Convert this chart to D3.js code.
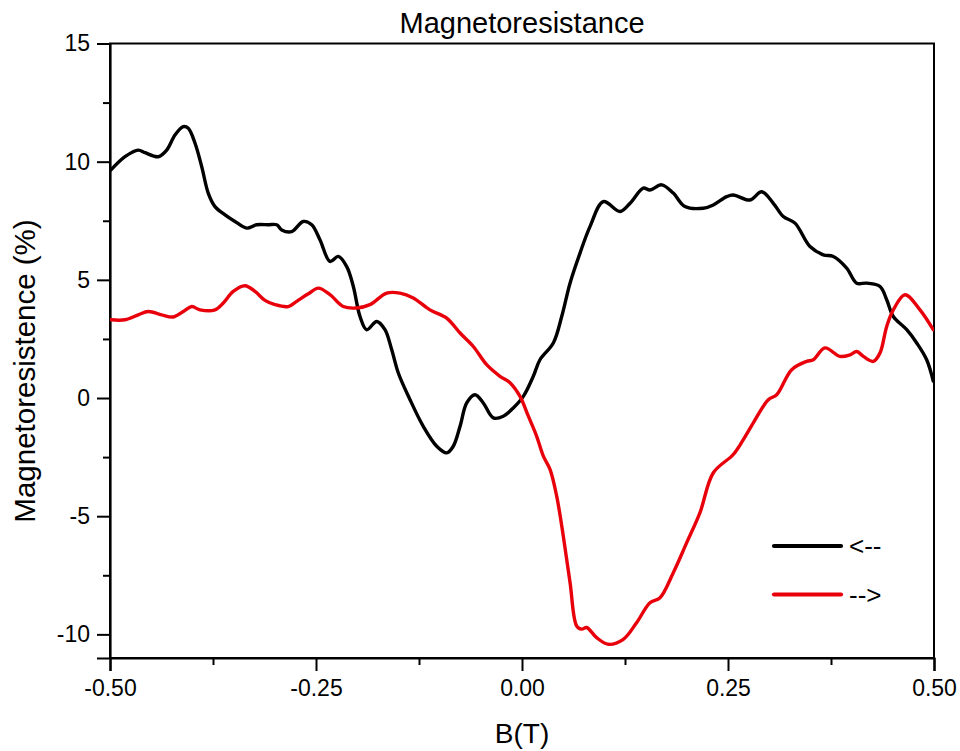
<!DOCTYPE html>
<html>
<head>
<meta charset="utf-8">
<script src="https://cdn.jsdelivr.net/npm/d3@7"></script>
<style>
  html, body { margin: 0; padding: 0; background: #fff; }
  svg { display: block; font-family: "Liberation Sans", Arial, sans-serif; }
</style>
</head>
<body>
<svg id="chart" width="960" height="751"></svg>
<script>
// Field sweep from +0.5 T down to -0.5 T (black, "<--")
const bDown = [-0.4988, -0.4818, -0.4657, -0.4575, -0.4414, -0.4312, -0.4211, -0.4110, -0.4050, -0.3968,
  -0.3887, -0.3807, -0.3726, -0.3604, -0.3483, -0.3341, -0.3220, -0.3079, -0.2977, -0.2916,
  -0.2795, -0.2654, -0.2552, -0.2451, -0.2330, -0.2229, -0.2127, -0.2047, -0.1966, -0.1885,
  -0.1763, -0.1663, -0.1581, -0.1501, -0.1359, -0.1198, -0.1035, -0.0914, -0.0834, -0.0752,
  -0.0671, -0.0570, -0.0470, -0.0348, -0.0227, -0.0106, 0.0016, 0.0137, 0.0218, 0.0380,
  0.0482, 0.0583, 0.0704, 0.0825, 0.0987, 0.1189, 0.1311, 0.1472, 0.1553, 0.1695,
  0.1836, 0.1978, 0.2200, 0.2322, 0.2484, 0.2564, 0.2767, 0.2909, 0.3050, 0.3171,
  0.3313, 0.3495, 0.3656, 0.3778, 0.3940, 0.4062, 0.4183, 0.4345, 0.4426, 0.4506,
  0.4669, 0.4790, 0.4911, 0.4991];
const mrDown = [9.65, 10.21, 10.49, 10.38, 10.21, 10.49, 11.13, 11.48, 11.41, 10.78,
  9.79, 8.66, 8.10, 7.75, 7.47, 7.19, 7.33, 7.33, 7.33, 7.11,
  7.04, 7.47, 7.33, 6.69, 5.78, 5.99, 5.56, 4.72, 3.45, 2.89,
  3.24, 2.89, 2.04, 1.06, -0.07, -1.20, -2.04, -2.32, -2.04, -1.20,
  -0.21, 0.14, -0.21, -0.84, -0.77, -0.42, 0.07, 0.92, 1.62, 2.33,
  3.45, 4.86, 6.13, 7.25, 8.31, 7.89, 8.24, 8.88, 8.80, 9.02,
  8.67, 8.10, 8.03, 8.17, 8.52, 8.59, 8.38, 8.73, 8.24, 7.68,
  7.40, 6.41, 6.06, 5.99, 5.50, 4.86, 4.86, 4.72, 4.16, 3.45,
  2.89, 2.33, 1.62, 0.72];

// Field sweep from -0.5 T up to +0.5 T (red, "-->")
const bUp = [-0.4988, -0.4818, -0.4657, -0.4535, -0.4373, -0.4232, -0.4110, -0.4008, -0.3908, -0.3726,
  -0.3625, -0.3504, -0.3362, -0.3240, -0.3119, -0.2998, -0.2836, -0.2735, -0.2593, -0.2472,
  -0.2330, -0.2169, -0.2006, -0.1845, -0.1642, -0.1481, -0.1319, -0.1117, -0.0914, -0.0752,
  -0.0591, -0.0429, -0.0267, -0.0146, -0.0024, 0.0077, 0.0178, 0.0259, 0.0340, 0.0421,
  0.0501, 0.0583, 0.0664, 0.0724, 0.0785, 0.0906, 0.1047, 0.1229, 0.1392, 0.1553,
  0.1675, 0.1836, 0.1999, 0.2160, 0.2322, 0.2564, 0.2686, 0.2807, 0.2989, 0.3091,
  0.3273, 0.3455, 0.3535, 0.3677, 0.3859, 0.3981, 0.4062, 0.4142, 0.4263, 0.4345,
  0.4426, 0.4506, 0.4648, 0.4830, 0.4991];
const mrUp = [3.31, 3.31, 3.52, 3.66, 3.52, 3.43, 3.66, 3.87, 3.73, 3.73,
  4.02, 4.51, 4.75, 4.51, 4.13, 3.95, 3.87, 4.09, 4.41, 4.65,
  4.37, 3.87, 3.81, 3.95, 4.44, 4.44, 4.23, 3.73, 3.38, 2.75,
  2.18, 1.41, 0.92, 0.65, 0.07, -0.77, -1.62, -2.46, -3.02, -4.15,
  -5.84, -7.81, -9.65, -9.78, -9.71, -10.14, -10.42, -10.21, -9.50, -8.66,
  -8.45, -7.39, -6.12, -4.85, -3.16, -2.39, -1.76, -1.05, -0.07, 0.14,
  1.20, 1.55, 1.62, 2.12, 1.76, 1.83, 1.97, 1.76, 1.55, 1.91,
  3.03, 3.73, 4.37, 3.73, 2.89];

const seriesLabels = ["<--", "-->"];
const seriesColors = ["#000000", "#e8000b"];

const xMajorTicks = [-0.5, -0.25, 0, 0.25, 0.5];
const xMinorTicks = [-0.375, -0.125, 0.125, 0.375];
const yMajorTicks = [-10, -5, 0, 5, 10, 15];
const yMinorTicks = [-7.5, -2.5, 2.5, 7.5, 12.5];

const titleText = "Magnetoresistance";
const xTitle = "B(T)";
const yTitle = "Magnetoresistence (%)";

// Layout
const margin = { left: 110, right: 26, top: 43.5, bottom: 93 };
const W = 960, H = 751;
const svg = d3.select("#chart");

const x = d3.scaleLinear().domain([-0.5, 0.5]).range([margin.left, W - margin.right]);
const y = d3.scaleLinear().domain([-11, 15]).range([H - margin.bottom, margin.top]);

// Plain ASCII hyphen for negative numbers
const hyphen = s => s.replace("\u2212", "-");
const fmtX = d => hyphen(d3.format(".2f")(d));
const fmtY = d => hyphen(d3.format("d")(d));

// Frame (top and right borders)
svg.append("rect")
  .attr("x", x(-0.5)).attr("y", y(15))
  .attr("width", x(0.5) - x(-0.5)).attr("height", y(-11) - y(15))
  .attr("fill", "none").attr("stroke", "#000").attr("stroke-width", 2);

// Bottom axis
svg.append("g").attr("transform", `translate(0,${y(-11)})`)
  .call(d3.axisBottom(x).tickValues(xMajorTicks).tickFormat(fmtX)
    .tickSize(13).tickPadding(9));
svg.append("g").attr("transform", `translate(0,${y(-11)})`)
  .call(d3.axisBottom(x).tickValues(xMinorTicks).tickFormat("").tickSize(7))
  .call(g => g.select(".domain").remove());

// Left axis
svg.append("g").attr("transform", `translate(${x(-0.5)},0)`)
  .call(d3.axisLeft(y).tickValues(yMajorTicks).tickFormat(fmtY)
    .tickSize(13).tickPadding(7));
svg.append("g").attr("transform", `translate(${x(-0.5)},0)`)
  .call(d3.axisLeft(y).tickValues(yMinorTicks).tickFormat("").tickSize(7))
  .call(g => g.select(".domain").remove());

svg.selectAll(".domain").attr("stroke", "#000").attr("stroke-width", 2.2);
svg.selectAll(".tick line").attr("stroke", "#000").attr("stroke-width", 2);
svg.selectAll(".tick text")
  .attr("font-family", "Liberation Sans, Arial, sans-serif")
  .attr("font-size", 23).attr("fill", "#000");

// Titles
svg.append("text")
  .attr("x", (x(-0.5) + x(0.5)) / 2).attr("y", 33)
  .attr("text-anchor", "middle").attr("font-size", 29).attr("fill", "#000")
  .text(titleText);

svg.append("text")
  .attr("x", (x(-0.5) + x(0.5)) / 2).attr("y", 743)
  .attr("text-anchor", "middle").attr("font-size", 28).attr("fill", "#000")
  .text(xTitle);

svg.append("text")
  .attr("transform", `translate(35,371) rotate(-90)`)
  .attr("text-anchor", "middle").attr("font-size", 29.5).attr("fill", "#000")
  .text(yTitle);

// Curves
const line = d3.line()
  .x(d => x(d[0])).y(d => y(d[1]))
  .curve(d3.curveCatmullRom.alpha(0.5));

const series = [
  bDown.map((b, i) => [b, mrDown[i]]),
  bUp.map((b, i) => [b, mrUp[i]])
];

svg.append("clipPath").attr("id", "plot-clip")
  .append("rect")
  .attr("x", x(-0.5)).attr("y", y(15))
  .attr("width", x(0.5) - x(-0.5)).attr("height", y(-11) - y(15));

svg.append("g").attr("clip-path", "url(#plot-clip)")
  .selectAll("path.curve")
  .data(series)
  .join("path")
  .attr("class", "curve")
  .attr("d", line)
  .attr("fill", "none")
  .attr("stroke", (d, i) => seriesColors[i])
  .attr("stroke-width", 3.4)
  .attr("stroke-linejoin", "round")
  .attr("stroke-linecap", "round");

// Legend
const legend = svg.append("g");
seriesLabels.forEach((label, i) => {
  const ly = 546 + i * 48.5;
  legend.append("line")
    .attr("x1", 774).attr("x2", 841).attr("y1", ly).attr("y2", ly)
    .attr("stroke", seriesColors[i]).attr("stroke-width", 4.2)
    .attr("stroke-linecap", "round");
  legend.append("text")
    .attr("x", 849).attr("y", ly).attr("dy", "0.35em")
    .attr("font-size", 26).attr("fill", "#000")
    .text(label);
});
</script>
</body>
</html>
